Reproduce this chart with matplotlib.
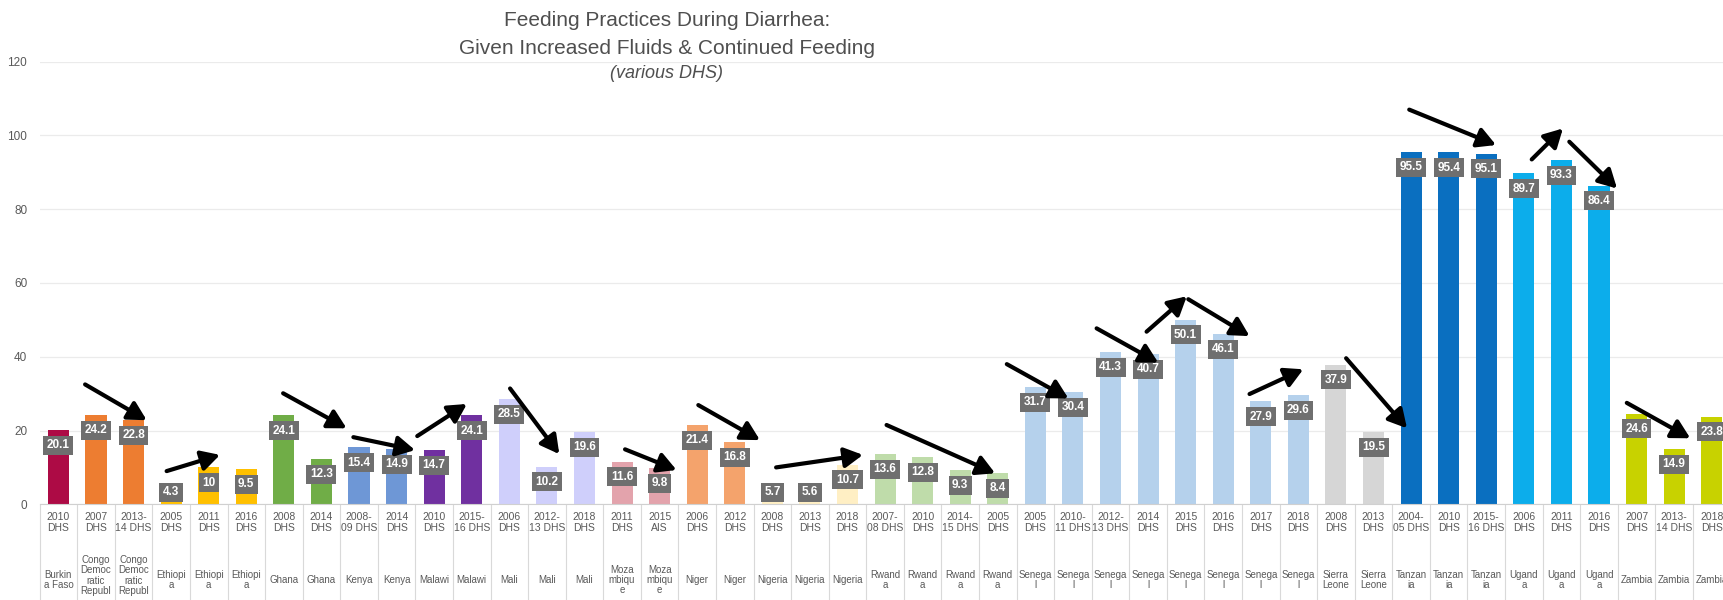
import matplotlib
matplotlib.use("Agg")
import matplotlib.pyplot as plt
import numpy as np

plt.rcParams['font.family'] = ['Liberation Sans Narrow', 'Liberation Sans', 'DejaVu Sans']

# data
countries = ["Burkin\na Faso", "Congo\nDemoc\nratic\nRepubl", "Congo\nDemoc\nratic\nRepubl",
             "Ethiopi\na", "Ethiopi\na", "Ethiopi\na", "Ghana", "Ghana", "Kenya", "Kenya",
             "Malawi", "Malawi", "Mali", "Mali", "Mali", "Moza\nmbiqu\ne", "Moza\nmbiqu\ne",
             "Niger", "Niger", "Nigeria", "Nigeria", "Nigeria",
             "Rwand\na", "Rwand\na", "Rwand\na", "Rwand\na",
             "Senega\nl", "Senega\nl", "Senega\nl", "Senega\nl", "Senega\nl", "Senega\nl",
             "Senega\nl", "Senega\nl", "Sierra\nLeone", "Sierra\nLeone",
             "Tanzan\nia", "Tanzan\nia", "Tanzan\nia", "Ugand\na", "Ugand\na", "Ugand\na",
             "Zambia", "Zambia", "Zambia"]
surveys = ["2010\nDHS", "2007\nDHS", "2013-\n14 DHS", "2005\nDHS", "2011\nDHS", "2016\nDHS",
           "2008\nDHS", "2014\nDHS", "2008-\n09 DHS", "2014\nDHS", "2010\nDHS", "2015-\n16 DHS",
           "2006\nDHS", "2012-\n13 DHS", "2018\nDHS", "2011\nDHS", "2015\nAIS", "2006\nDHS",
           "2012\nDHS", "2008\nDHS", "2013\nDHS", "2018\nDHS", "2007-\n08 DHS", "2010\nDHS",
           "2014-\n15 DHS", "2005\nDHS", "2005\nDHS", "2010-\n11 DHS", "2012-\n13 DHS",
           "2014\nDHS", "2015\nDHS", "2016\nDHS", "2017\nDHS", "2018\nDHS", "2008\nDHS",
           "2013\nDHS", "2004-\n05 DHS", "2010\nDHS", "2015-\n16 DHS", "2006\nDHS", "2011\nDHS",
           "2016\nDHS", "2007\nDHS", "2013-\n14 DHS", "2018\nDHS"]
values = [20.1, 24.2, 22.8, 4.3, 10, 9.5, 24.1, 12.3, 15.4, 14.9, 14.7, 24.1,
          28.5, 10.2, 19.6, 11.6, 9.8, 21.4, 16.8, 5.7, 5.6, 10.7, 13.6, 12.8, 9.3, 8.4,
          31.7, 30.4, 41.3, 40.7, 50.1, 46.1, 27.9, 29.6, 37.9, 19.5,
          95.5, 95.4, 95.1, 89.7, 93.3, 86.4, 24.6, 14.9, 23.8]

country_colors = {
    "Burkin": "#AD0B45", "Congo": "#ED7D31", "Ethiopi": "#FFC000", "Ghana": "#70AD47",
    "Kenya": "#6E97D6", "Malawi": "#7030A0", "Mali": "#CFCFFB", "Moza": "#E3A3AC",
    "Niger": "#F4A36C", "Nigeria": "#FFEFC4", "Rwand": "#BFDCAA", "Senega": "#B5D1EC",
    "Sierra": "#D6D6D6", "Tanzan": "#0A6FC0", "Ugand": "#0CADEB", "Zambia": "#C8D200",
}

# trend arrows: (x0, y0, x1, y1) in bar index / percent
arrows = [
    (0.71, 32.5, 2.35, 22.8), (2.88, 9.0, 4.30, 13.4), (5.98, 30.1, 7.67, 20.6),
    (7.85, 18.2, 9.49, 14.7), (9.55, 18.5, 10.87, 27.2), (12.02, 31.4, 13.33, 13.6),
    (15.08, 14.9, 16.45, 9.3), (17.03, 26.9, 18.67, 17.4), (19.10, 10.0, 21.41, 13.4),
    (22.04, 21.5, 24.93, 8.4), (25.24, 38.0, 26.88, 28.7), (27.63, 47.7, 29.27, 38.4),
    (28.96, 46.8, 30.03, 56.4), (30.07, 55.6, 31.70, 45.6), (31.70, 29.9, 33.13, 36.6),
    (34.27, 39.6, 35.89, 20.6), (35.95, 107.0, 38.26, 97.4), (39.21, 93.5, 40.04, 101.9),
    (40.21, 98.3, 41.48, 85.6), (41.74, 27.5, 43.43, 17.9),
]

fig = plt.figure(figsize=(17.23, 6), dpi=100)
ax = fig.add_axes([0.0230, 0.1595, 0.977, 0.7377])

x = np.arange(len(values))
cols = [country_colors[c.split("\n")[0]] for c in countries]
ax.bar(x, values, width=0.56, color=cols, zorder=2)

# data labels
for xi, v in zip(x, values):
    ax.text(xi, max(v - 4.1, 3.3), f"{v:g}", ha="center", va="center", fontsize=8.5,
            color="white", fontweight="bold", zorder=4,
            bbox=dict(boxstyle="square,pad=0.3", fc="#6F6F6F", ec="none"))

for x0, y0, x1, y1 in arrows:
    ax.annotate("", xy=(x1, y1), xytext=(x0, y0), zorder=5,
                arrowprops=dict(arrowstyle="-|>,head_length=0.55,head_width=0.3",
                                color="black", lw=3, mutation_scale=20, shrinkA=0, shrinkB=0))

ax.set_xlim(-0.5, 44.3)
ax.set_ylim(0, 120)
ax.set_yticks(range(0, 121, 20))
ax.tick_params(axis="y", length=0, pad=9, labelsize=8.5, labelcolor="#595959")
ax.set_xticks([])
ax.grid(axis="y", color="#EBEBEB", lw=0.9, zorder=0)
for s in ["left", "right", "top"]:
    ax.spines[s].set_visible(False)
ax.spines["bottom"].set_color("#D0D0D0")

# category table under the axis
tr = ax.get_xaxis_transform()
ax.vlines(np.arange(len(values) + 1) - 0.5, -0.25, 0, transform=tr, colors="#D9D9D9",
          lw=0.8, clip_on=False)
for xi, s, c in zip(x, surveys, countries):
    ax.text(xi, -0.041, s, transform=tr, ha="center", va="center", fontsize=7.5,
            color="#595959", linespacing=1.1)
    # the long Congo name is clipped after its fourth line
    yc = -0.1605 if c.count("\n") == 3 else -0.171
    ax.text(xi, yc, c, transform=tr, ha="center", va="center", fontsize=7,
            color="#595959", linespacing=1.05)

fig.text(0.387, 0.965, "Feeding Practices During Diarrhea:", ha="center", va="center",
         fontsize=15, color="#4F4F4F")
fig.text(0.387, 0.920, "Given Increased Fluids & Continued Feeding", ha="center",
         va="center", fontsize=15, color="#4F4F4F")
fig.text(0.387, 0.877, "(various DHS)", ha="center", va="center", fontsize=13,
         color="#4F4F4F", style="italic")

fig.savefig("out.png", dpi=100)
